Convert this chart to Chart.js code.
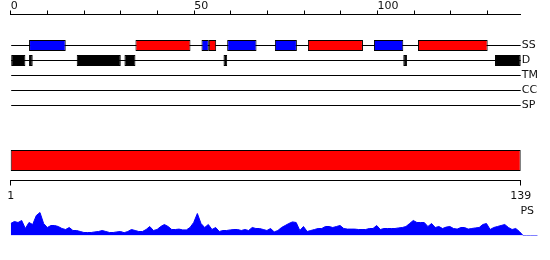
<!DOCTYPE html>
<html>
<head>
<meta charset="utf-8">
<script src="https://cdn.jsdelivr.net/npm/chart.js@4/dist/chart.umd.min.js"></script>
<style>
  html, body { margin: 0; padding: 0; background: #fff; }
  #wrap { position: relative; width: 550px; height: 260px; }
  canvas { position: absolute; left: 0; top: 0; }
</style>
</head>
<body>
<div id="wrap">
  <canvas id="tracks" width="550" height="260"></canvas>
  <canvas id="domain" width="550" height="260"></canvas>
  <canvas id="profile" width="550" height="260"></canvas>
</div>
<script>
// ---------------- data ----------------
const SEQ_LEN = 139;
const ROWS = ['SS', 'D', 'TM', 'CC', 'SP'];
const TOP_TICK_LABELS = [0, 50, 100];
const BOTTOM_TICK_LABELS = [1, 139];
// secondary structure spans [from, to] along the sequence
const SS_HELIX = [[34, 49], [54, 56], [81, 96], [111, 130]];          // red
const SS_STRAND = [[5, 15], [52, 54], [59, 67], [72, 78], [99, 107]];  // blue
// disorder spans
const DISORDER = [[0, 4], [5, 6], [18, 30], [31, 34], [58, 59], [107, 108], [132, 139]];
// full length domain bar
const DOMAIN = [[1, 139]];
const PROFILE_LABEL = 'PS';
// per-residue profile (positions 0..144)
const PROFILE = [
  0.30,0.35,0.325,0.375,0.175,0.325,0.275,0.50,0.575,0.30,
  0.20,0.25,0.25,0.225,0.175,0.15,0.20,0.125,0.125,0.10,
  0.075,0.075,0.075,0.09,0.10,0.125,0.10,0.075,0.075,0.09,
  0.10,0.07,0.10,0.15,0.125,0.10,0.10,0.15,0.225,0.125,
  0.15,0.225,0.275,0.225,0.15,0.15,0.16,0.14,0.14,0.20,
  0.325,0.55,0.30,0.20,0.275,0.15,0.20,0.10,0.125,0.125,
  0.14,0.15,0.15,0.125,0.15,0.125,0.20,0.175,0.175,0.15,
  0.125,0.175,0.09,0.125,0.20,0.25,0.30,0.34,0.325,0.125,
  0.225,0.10,0.125,0.15,0.175,0.175,0.225,0.225,0.20,0.225,
  0.25,0.175,0.16,0.16,0.16,0.15,0.15,0.15,0.175,0.175,
  0.25,0.15,0.175,0.175,0.175,0.175,0.19,0.20,0.225,0.30,
  0.375,0.325,0.325,0.325,0.225,0.30,0.20,0.225,0.175,0.21,
  0.225,0.175,0.16,0.20,0.20,0.16,0.175,0.19,0.20,0.275,
  0.30,0.15,0.20,0.225,0.25,0.275,0.20,0.15,0.175,0.10,
  0,0,0,0,0
];

// ---------------- common ----------------
Chart.defaults.font.family = "'DejaVu Sans', sans-serif";
Chart.defaults.font.size = 11;
Chart.defaults.color = '#111';
const base = {
  responsive: false,
  animation: false,
  devicePixelRatio: 1,
  plugins: { legend: { display: false }, tooltip: { enabled: false }, title: { display: false } }
};

function spans(list, row) {
  const i = ROWS.indexOf(row);
  return list.map(([a, b]) => ({ x: [a, b], y: i }));
}
const boxStyle = {
  borderColor: '#000', borderWidth: 1, borderSkipped: false,
  barThickness: 11, maxBarThickness: 11, grouped: false, inflateAmount: 0, order: 1, clip: false
};

// ---------------- chart 1: tracks ----------------
new Chart(document.getElementById('tracks'), {
  type: 'bar',
  data: {
    datasets: [
      { label: 'track', data: ROWS.map((r, i) => ({ x: [0, SEQ_LEN], y: i })),
        backgroundColor: '#000', borderWidth: 0, barThickness: 1, maxBarThickness: 1,
        grouped: false, inflateAmount: 0, order: 5, clip: false },
      Object.assign({ label: 'helix', data: spans(SS_HELIX, 'SS'), backgroundColor: '#ff0000' }, boxStyle),
      Object.assign({ label: 'strand', data: spans(SS_STRAND, 'SS'), backgroundColor: '#0000ff' }, boxStyle),
      Object.assign({ label: 'disorder', data: spans(DISORDER, 'D'), backgroundColor: '#000000' }, boxStyle)
    ]
  },
  options: Object.assign({}, base, {
    indexAxis: 'y',
    layout: { padding: { left: 10.7, right: 0, top: 0, bottom: 154.5 } },
    scales: {
      x: {
        type: 'linear', position: 'top', min: 0, max: SEQ_LEN,
        afterFit: s => { s.height = 14.5; },
        ticks: {
          stepSize: 10, includeBounds: false, autoSkip: false, maxRotation: 0,
          align: 'start', padding: -1.5, font: { size: 11, lineHeight: 1 },
          callback: v => TOP_TICK_LABELS.includes(v) ? String(v) : ''
        },
        grid: { drawOnChartArea: false, drawTicks: true, tickLength: 4, color: '#000', lineWidth: 1 },
        border: { display: true, color: '#000', width: 1 }
      },
      y: {
        type: 'linear', position: 'right', reverse: true, min: -2.0667, max: ROWS.length - 1,
        offset: false,
        afterFit: s => { s.width = 29.3; },
        afterBuildTicks: s => { s.ticks = ROWS.map((r, i) => ({ value: i })); },
        ticks: { padding: 1, autoSkip: false, crossAlign: 'near', callback: v => ROWS[v] ?? '' },
        grid: { display: false, drawTicks: false },
        border: { display: false }
      }
    }
  })
});

// ---------------- chart 2: domain bar + sequence axis ----------------
new Chart(document.getElementById('domain'), {
  type: 'bar',
  data: {
    labels: [''],
    datasets: [{ label: 'domain', data: DOMAIN, backgroundColor: '#ff0000', borderColor: '#000',
      borderWidth: 1, borderSkipped: false, barThickness: 21, inflateAmount: 0, clip: false }]
  },
  options: Object.assign({}, base, {
    indexAxis: 'y',
    layout: { padding: { left: 10.7, right: 29.3, top: 140.5, bottom: 54.5 } },
    scales: {
      x: {
        type: 'linear', position: 'bottom', min: BOTTOM_TICK_LABELS[0], max: SEQ_LEN,
        afterFit: s => { s.height = 25; },
        afterBuildTicks: s => { s.ticks = BOTTOM_TICK_LABELS.map(v => ({ value: v })); },
        ticks: { autoSkip: false, maxRotation: 0, padding: 5.5, font: { size: 11, lineHeight: 1 } },
        grid: { drawOnChartArea: false, drawTicks: true, tickLength: 5, color: '#000' },
        border: { display: true, color: '#000', width: 1 }
      },
      y: { display: false }
    }
  })
});

// ---------------- chart 3: profile ----------------
new Chart(document.getElementById('profile'), {
  type: 'line',
  data: {
    datasets: [{
      label: PROFILE_LABEL,
      data: PROFILE.map((v, i) => ({ x: i, y: v })),
      borderColor: '#0000ff', backgroundColor: '#0000ff', borderWidth: 1,
      fill: 'origin', tension: 0, pointRadius: 0
    }]
  },
  options: Object.assign({}, base, {
    layout: { padding: { left: 10.7, right: 0, top: 195.5, bottom: 24.5 } },
    scales: {
      x: { type: 'linear', min: 0, max: PROFILE.length - 1, display: false },
      y: {
        type: 'linear', position: 'right', min: 0, max: 1,
        afterFit: s => { s.width = 12.3; },
        afterBuildTicks: s => { s.ticks = [{ value: 0.61 }]; },
        ticks: { mirror: true, padding: -3.7, callback: () => PROFILE_LABEL },
        grid: { display: false, drawTicks: false },
        border: { display: false }
      }
    }
  })
});
</script>
</body>
</html>
